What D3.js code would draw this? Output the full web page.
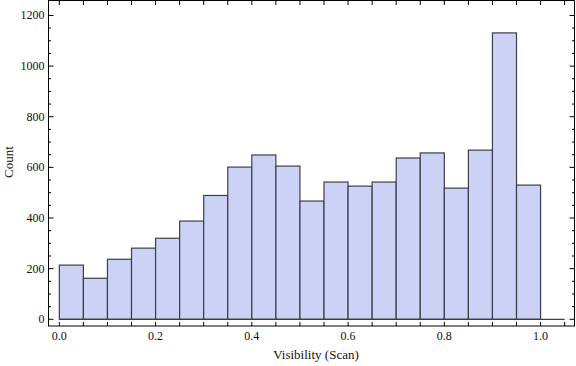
<!DOCTYPE html>
<html>
  <head>
    <meta charset="utf-8">
    <title></title>
    <script src="https://d3js.org/d3.v7.min.js"></script>
    <style>
      body { margin: 0; background: #fff; }
      text { font-family: "Liberation Serif", "Times New Roman", serif; font-size: 12px; fill: #111; }
      text.label { font-size: 13px; }
    </style>
  </head>
  <body>
  <div id="chart"></div>
  <script>
    // histogram bins (left edges) and counts
    var binStarts = [0.00, 0.05, 0.10, 0.15, 0.20, 0.25, 0.30, 0.35, 0.40, 0.45,
                     0.50, 0.55, 0.60, 0.65, 0.70, 0.75, 0.80, 0.85, 0.90, 0.95];
    var counts = [214, 162, 237, 281, 320, 388, 489, 601, 649, 605,
                  467, 542, 526, 542, 637, 657, 518, 668, 1131, 530];
    var binWidth = 0.05;

    var xTicks = [0.0, 0.2, 0.4, 0.6, 0.8, 1.0];
    var yTicks = [0, 200, 400, 600, 800, 1000, 1200];

    var W = 576, H = 366;
    // frame edges (note: "top" is reserved on window, so use other names)
    var fLeft = 48.5, fRight = 574.5, fTop = 0.5, fBottom = 326;

    var x = d3.scaleLinear().domain([-0.0225, 1.0705]).range([fLeft, fRight]);
    var y = d3.scaleLinear().domain([-26.5, 1259]).range([fBottom, fTop]);

    var svg = d3.select('#chart').append('svg').attr('width', W).attr('height', H);

    var bars = binStarts.map(function(b, i) { return { x0: b, x1: b + binWidth, n: counts[i] }; });

    // bars
    svg.append('g').selectAll('rect').data(bars).enter().append('rect')
      .attr('x', function(d) { return x(d.x0); })
      .attr('width', function(d) { return x(d.x1) - x(d.x0); })
      .attr('y', function(d) { return y(d.n); })
      .attr('height', function(d) { return y(0) - y(d.n); })
      .attr('fill', '#ccd2f6')
      .attr('stroke', '#3e3e4a')
      .attr('stroke-width', 1.2);

    // baseline along count = 0
    svg.append('line')
      .attr('x1', x(0)).attr('x2', x(1.05))
      .attr('y1', y(0)).attr('y2', y(0))
      .attr('stroke', '#3e3e4a').attr('stroke-width', 1.2);

    // frame
    svg.append('rect')
      .attr('x', fLeft).attr('y', fTop)
      .attr('width', fRight - fLeft).attr('height', fBottom - fTop)
      .attr('fill', 'none').attr('stroke', '#000').attr('stroke-width', 1);

    // x ticks, minor every 0.05, on bottom and top
    var xMinor = d3.range(0, 1.0501, 0.05);
    var xt = svg.append('g');
    xMinor.forEach(function(v) {
      xt.append('line').attr('x1', x(v)).attr('x2', x(v)).attr('y1', fBottom).attr('y2', fBottom - 4)
        .attr('stroke', '#000');
      xt.append('line').attr('x1', x(v)).attr('x2', x(v)).attr('y1', fTop).attr('y2', fTop + 4.5)
        .attr('stroke', '#000');
    });
    xt.selectAll('text').data(xTicks).enter().append('text')
      .attr('x', function(d) { return x(d); })
      .attr('y', 340)
      .attr('text-anchor', 'middle')
      .text(function(d) { return d3.format('.1f')(d); });

    // y ticks, minor every 50, on left and right
    var yMinor = d3.range(0, 1250, 50);
    var yt = svg.append('g');
    yMinor.forEach(function(v) {
      var len = v % 200 === 0 ? 5 : 2.5;
      yt.append('line').attr('x1', fLeft).attr('x2', fLeft + len).attr('y1', y(v)).attr('y2', y(v))
        .attr('stroke', '#000');
      yt.append('line').attr('x1', fRight).attr('x2', fRight - len).attr('y1', y(v)).attr('y2', y(v))
        .attr('stroke', '#000');
    });
    yt.selectAll('text').data(yTicks).enter().append('text')
      .attr('x', 44.5)
      .attr('y', function(d) { return y(d) + 4; })
      .attr('text-anchor', 'end')
      .text(function(d) { return d; });

    // axis labels
    svg.append('text')
      .attr('class', 'label')
      .attr('x', 316).attr('y', 359)
      .attr('text-anchor', 'middle')
      .text('Visibility (Scan)');

    svg.append('text')
      .attr('class', 'label')
      .attr('transform', 'translate(13,162) rotate(-90)')
      .attr('text-anchor', 'middle')
      .text('Count');
  </script>
</body>
</html>
